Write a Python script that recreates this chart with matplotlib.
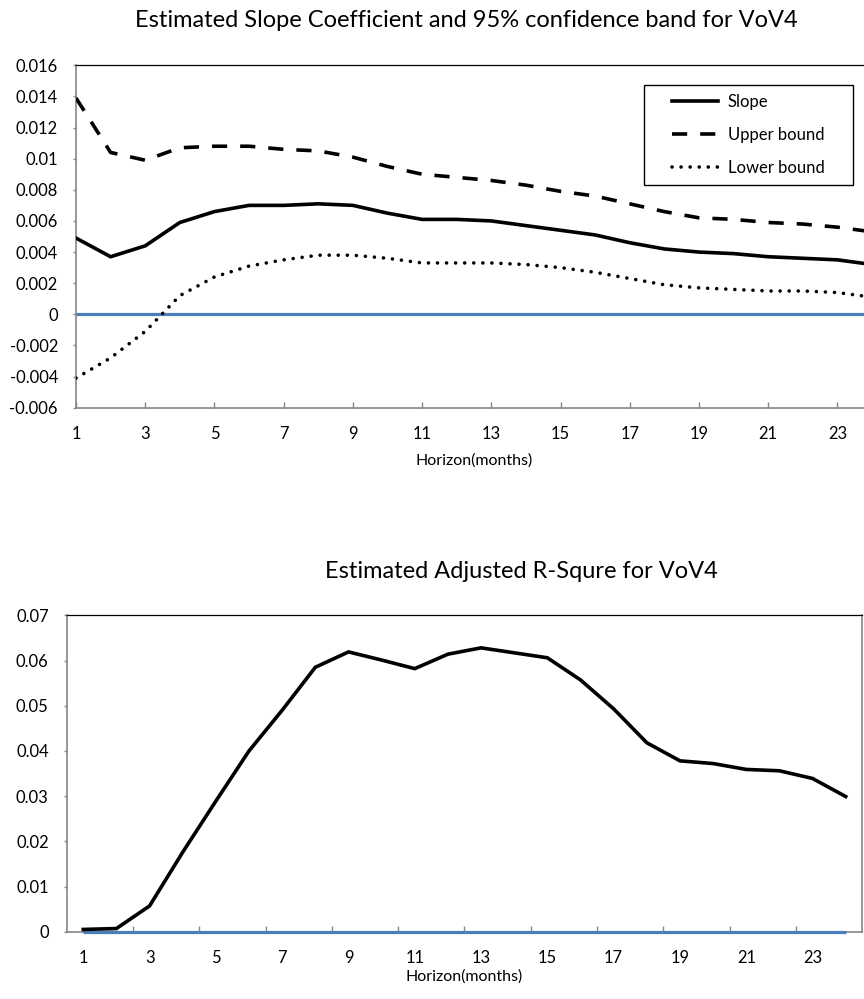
import matplotlib
matplotlib.use("Agg")
import matplotlib.pyplot as plt
from matplotlib.patches import Rectangle

plt.rcParams['font.family'] = ['Lato', 'DejaVu Sans']

# ---------------- data ----------------
horizon = list(range(1, 25))
slope = [0.0049, 0.0037, 0.0044, 0.0059, 0.0066, 0.0070, 0.0070, 0.0071, 0.0070, 0.0065,
         0.0061, 0.0061, 0.0060, 0.0057, 0.0054, 0.0051, 0.0046, 0.0042, 0.0040, 0.0039,
         0.0037, 0.0036, 0.0035, 0.0032]
upper = [0.0139, 0.0104, 0.0099, 0.0107, 0.0108, 0.0108, 0.0106, 0.0105, 0.0101, 0.0095,
         0.0090, 0.0088, 0.0086, 0.0083, 0.0079, 0.0076, 0.0071, 0.0066, 0.0062, 0.0061,
         0.0059, 0.0058, 0.0056, 0.0053]
lower = [-0.0041, -0.0028, -0.0011, 0.0012, 0.0024, 0.0031, 0.0035, 0.0038, 0.0038, 0.0036,
         0.0033, 0.0033, 0.0033, 0.0032, 0.0030, 0.0027, 0.0023, 0.0019, 0.0017, 0.0016,
         0.0015, 0.0015, 0.0014, 0.0011]
zero_line = [0.0] * 24
adj_r2 = [0.0005, 0.0007, 0.0057, 0.0176, 0.0289, 0.0400, 0.0490, 0.0585, 0.0619, 0.0601,
          0.0582, 0.0614, 0.0628, 0.0617, 0.0606, 0.0557, 0.0493, 0.0418, 0.0378, 0.0372,
          0.0359, 0.0356, 0.0339, 0.0299]

top_yticks = [-0.006, -0.004, -0.002, 0, 0.002, 0.004, 0.006, 0.008, 0.01, 0.012, 0.014, 0.016]
top_yticklabels = ['-0.006', '-0.004', '-0.002', '0', '0.002', '0.004', '0.006', '0.008',
                   '0.01', '0.012', '0.014', '0.016']
bot_yticks = [0, 0.01, 0.02, 0.03, 0.04, 0.05, 0.06, 0.07]
bot_yticklabels = ['0', '0.01', '0.02', '0.03', '0.04', '0.05', '0.06', '0.07']
xticks = list(range(1, 24, 2))
xticklabels = [str(v) for v in xticks]

title_top = 'Estimated Slope Coefficient and 95% confidence band for VoV4'
title_bot = 'Estimated Adjusted R-Squre for VoV4'
xlabel = 'Horizon(months)'
legend_labels = ['Slope', 'Upper bound', 'Lower bound']

# ---------------- figure ----------------
W, H = 864, 999
fig = plt.figure(figsize=(W / 100, H / 100), dpi=100)

def px_axes(l, t, r, b):
    return [l / W, 1 - b / H, (r - l) / W, (b - t) / H]

GRAY = '#868686'
BLUE = '#4A7EBB'
TICK_FS = 11.9
LW = 2.6

# ---- top chart ----
ax1 = fig.add_axes(px_axes(76, 65.3, 872, 407.7))
ax1.plot(horizon, zero_line, color=BLUE, lw=2.3, solid_capstyle='butt', zorder=2)
l1, = ax1.plot(horizon, slope, color='black', lw=LW, solid_joinstyle='round', zorder=3)
l2, = ax1.plot(horizon, upper, color='black', lw=LW, dashes=(4.2, 3.6), zorder=3)
l3, = ax1.plot(horizon, lower, color='black', lw=LW, dashes=(0.01, 2.5),
               dash_capstyle='round', zorder=3)
ax1.set_xlim(1, 24)
ax1.set_ylim(-0.006, 0.016)
ax1.set_yticks(top_yticks)
ax1.set_yticklabels(top_yticklabels)
ax1.set_xticks(xticks)
ax1.set_xticklabels(xticklabels)
ax1.tick_params(axis='x', direction='in', length=4.5, width=1, color=GRAY, pad=13.5,
                labelsize=TICK_FS)
ax1.tick_params(axis='y', direction='out', length=2.5, width=1, color=GRAY, pad=10.5,
                labelsize=TICK_FS)
for s in ['left', 'bottom']:
    ax1.spines[s].set_color(GRAY)
    ax1.spines[s].set_linewidth(1.2)
ax1.spines['top'].set_color('black')
ax1.spines['top'].set_linewidth(0.9)
ax1.spines['right'].set_visible(False)
ax1.set_xlabel(xlabel, fontsize=11.5, va='baseline')
ax1.xaxis.set_label_coords(0.5, (407.7 - 465) / 342.4)

leg = ax1.legend([l1, l2, l3], legend_labels, loc='center',
                 bbox_to_anchor=(748.3 / W, 1 - 134.85 / H), bbox_transform=fig.transFigure,
                 frameon=False, fontsize=12, handlelength=46 / (12 * 100 / 72),
                 handletextpad=0.55, labelspacing=1.0, borderpad=0, borderaxespad=0)
fig.patches.append(Rectangle((643.7 / W, 1 - 184.7 / H), (853 - 643.7) / W, (184.7 - 85) / H,
                             transform=fig.transFigure, fill=False, edgecolor='black',
                             lw=1.0, zorder=5))

# ---- bottom chart ----
ax2 = fig.add_axes(px_axes(66.7, 615.3, 862.3, 931.7))
ax2.plot(horizon, zero_line, color=BLUE, lw=2.3, solid_capstyle='butt', zorder=3,
         clip_on=False)
ax2.plot(horizon, adj_r2, color='black', lw=LW, solid_joinstyle='miter', zorder=4)
ax2.set_xlim(0.5, 24.5)
ax2.set_ylim(0, 0.07)
ax2.set_yticks(bot_yticks)
ax2.set_yticklabels(bot_yticklabels)
ax2.set_xticks(xticks)
ax2.set_xticklabels(xticklabels)
ax2.set_xticks([v + 1.5 for v in xticks[:-1]], minor=True)
ax2.tick_params(axis='x', which='major', length=0, pad=13.5, labelsize=TICK_FS)
ax2.tick_params(axis='x', which='minor', direction='in', length=4.5, width=1, color=GRAY)
ax2.tick_params(axis='y', direction='out', length=2.5, width=1, color=GRAY, pad=10.5,
                labelsize=TICK_FS)
for s in ['left', 'bottom']:
    ax2.spines[s].set_color(GRAY)
    ax2.spines[s].set_linewidth(1.2)
ax2.spines['top'].set_color('black')
ax2.spines['top'].set_linewidth(0.9)
ax2.spines['right'].set_color(GRAY)
ax2.spines['right'].set_linewidth(1.2)
ax2.set_xlabel(xlabel, fontsize=11.5, va='baseline')
ax2.xaxis.set_label_coords(0.5, (931.7 - 980.7) / 316.4)

# ---- titles ----
fig.text(466.7 / W, 1 - 26.7 / H, title_top, ha='center', va='baseline', fontsize=17)
fig.text(521.5 / W, 1 - 578.3 / H, title_bot, ha='center', va='baseline', fontsize=17)

fig.savefig('out.png', dpi=100)
